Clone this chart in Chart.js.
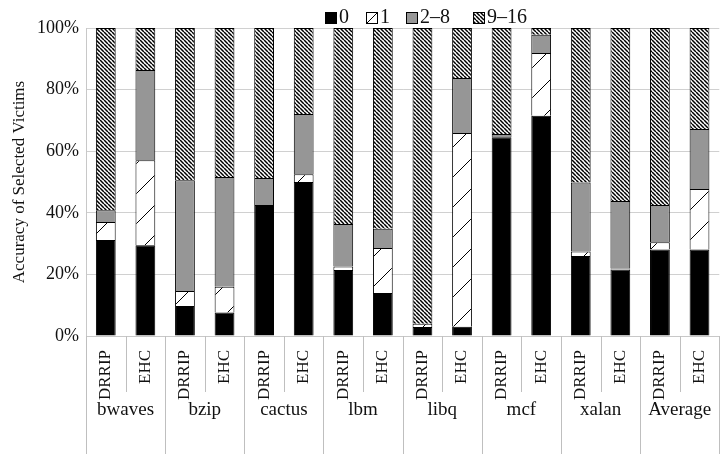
<!DOCTYPE html>
<html>
<head>
<meta charset="utf-8">
<script src="https://cdn.jsdelivr.net/npm/chart.js@4"></script>
<style>
  body { margin: 0; background: #fff; }
  #wrap { width: 726px; height: 454px; }
</style>
</head>
<body>
<div id="wrap"><canvas id="chart"></canvas></div>
<script>
const groups = ["bwaves", "bzip", "cactus", "lbm", "libq", "mcf", "xalan", "Average"];
const policies = ["DRRIP", "EHC"];
const seriesNames = ["0", "1", "2–8", "9–16"];

// share of victims (%) per bar, bars ordered group by group, DRRIP then EHC
const ways0 = [31.2, 29.5, 9.7, 7.6, 42.5, 50.0, 21.4, 14.0, 2.9, 3.0, 64.5, 71.5, 26.0, 21.6, 28.1, 28.1];
const ways1 = [5.8, 27.6, 4.9, 8.4, 0, 2.5, 1.2, 14.6, 1.1, 62.9, 0, 20.4, 1.4, 0.3, 2.3, 19.6];
const ways2to8 = [3.8, 29.3, 36.0, 35.6, 8.8, 19.6, 13.8, 6.2, 0, 17.9, 1.1, 5.9, 22.4, 21.9, 12.1, 19.5];
const ways9to16 = [59.2, 13.6, 49.4, 48.4, 48.7, 27.9, 63.6, 65.2, 96.0, 16.2, 34.4, 2.2, 50.2, 56.2, 57.5, 32.8];

const yTicks = [0, 20, 40, 60, 80, 100];

const labels = [];
groups.forEach(() => policies.forEach(p => labels.push(p)));

const FONT = "'Liberation Serif', 'DejaVu Serif', serif";

function linePattern(size, width, dir) {
  const c = document.createElement("canvas");
  c.width = size; c.height = size;
  const g = c.getContext("2d");
  g.fillStyle = "#fff";
  g.fillRect(0, 0, size, size);
  g.strokeStyle = "#000";
  g.lineWidth = width;
  g.beginPath();
  for (let o = -size; o <= size; o += size) {
    if (dir === "down") {
      g.moveTo(o, 0);
      g.lineTo(o + size, size);
    } else {
      g.moveTo(o, size);
      g.lineTo(o + size, 0);
    }
  }
  g.stroke();
  return g.createPattern(c, "repeat");
}

const fills = ["#000000", linePattern(30, 1, "up"), "#969696", linePattern(4, 1.5, "down")];
const values = [ways0, ways1, ways2to8, ways9to16];

const separators = {
  id: "separators",
  afterDraw(chart) {
    const ctx = chart.ctx;
    const x = chart.scales.x;
    const w = (x.right - x.left) / labels.length;
    ctx.save();
    ctx.strokeStyle = "#bfbfbf";
    ctx.lineWidth = 1;
    for (let i = 0; i <= labels.length; i++) {
      const px = Math.round(x.left + i * w) + 0.5;
      const bottom = i % 2 === 0 ? chart.height : x.top + 56;
      ctx.beginPath();
      ctx.moveTo(px, x.top);
      ctx.lineTo(px, bottom);
      ctx.stroke();
    }
    ctx.fillStyle = "#111";
    ctx.font = "19px " + FONT;
    ctx.textAlign = "center";
    ctx.textBaseline = "middle";
    groups.forEach((name, g) => {
      const cx = (x.getPixelForValue(2 * g) + x.getPixelForValue(2 * g + 1)) / 2;
      ctx.fillText(name, cx, x.top + 74);
    });
    ctx.restore();
  }
};

// legend boxes sit where the reference has them
const legendX = [325, 366, 406, 473];

const topLegend = {
  id: "topLegend",
  afterDraw(chart) {
    const ctx = chart.ctx;
    ctx.save();
    ctx.font = "20px " + FONT;
    const box = 11, y = 12;
    seriesNames.forEach((name, i) => {
      const bx = legendX[i] + 0.5;
      ctx.fillStyle = i === 1 ? "#fff" : fills[i];
      ctx.fillRect(bx, y + 0.5, box, box);
      ctx.strokeStyle = "#000";
      ctx.lineWidth = 1;
      ctx.strokeRect(bx, y + 0.5, box, box);
      if (i === 1) {
        ctx.beginPath();
        ctx.moveTo(bx, y + 0.5 + box);
        ctx.lineTo(bx + box, y + 0.5);
        ctx.stroke();
      }
      ctx.fillStyle = "#111";
      ctx.textAlign = "left";
      ctx.textBaseline = "middle";
      ctx.fillText(name, legendX[i] + box + 3, y + box / 2);
    });
    ctx.restore();
  }
};

function draw() {
  new Chart(document.getElementById("chart"), {
    type: "bar",
    data: {
      labels,
      datasets: seriesNames.map((name, i) => ({
        label: name,
        data: values[i],
        backgroundColor: fills[i],
        borderColor: "#000",
        borderWidth: 1,
        barPercentage: 0.5,
        categoryPercentage: 1
      }))
    },
    options: {
      responsive: true,
      maintainAspectRatio: false,
      animation: false,
      layout: { padding: { top: 28, right: 3, left: 0, bottom: 0 } },
      plugins: {
        legend: { display: false },
        tooltip: { enabled: false }
      },
      scales: {
        x: {
          stacked: true,
          afterFit(scale) { scale.height = 118; },
          grid: { display: false },
          border: { display: true, color: "#c8c8c8" },
          ticks: {
            autoSkip: false,
            minRotation: 90,
            maxRotation: 90,
            padding: 6,
            color: "#111",
            font: { family: FONT, size: 17 }
          }
        },
        y: {
          stacked: true,
          min: 0,
          max: 100,
          afterFit(scale) { scale.width = 86; },
          afterBuildTicks(scale) { scale.ticks = yTicks.map(v => ({ value: v })); },
          grid: { color: "#d0d0d0", drawTicks: false },
          border: { display: true, color: "#c8c8c8" },
          ticks: {
            padding: 7,
            color: "#111",
            font: { family: FONT, size: 18 },
            callback: v => v + "%"
          },
          title: {
            display: true,
            text: "Accuracy of Selected Victims",
            color: "#111",
            padding: { top: 9, bottom: 0 },
            font: { family: FONT, size: 17 }
          }
        }
      }
    },
    plugins: [separators, topLegend]
  });
}

Promise.all([
  document.fonts.load("17px 'Liberation Serif'"),
  document.fonts.load("20px 'Liberation Serif'")
]).then(draw, draw);
</script>
</body>
</html>
